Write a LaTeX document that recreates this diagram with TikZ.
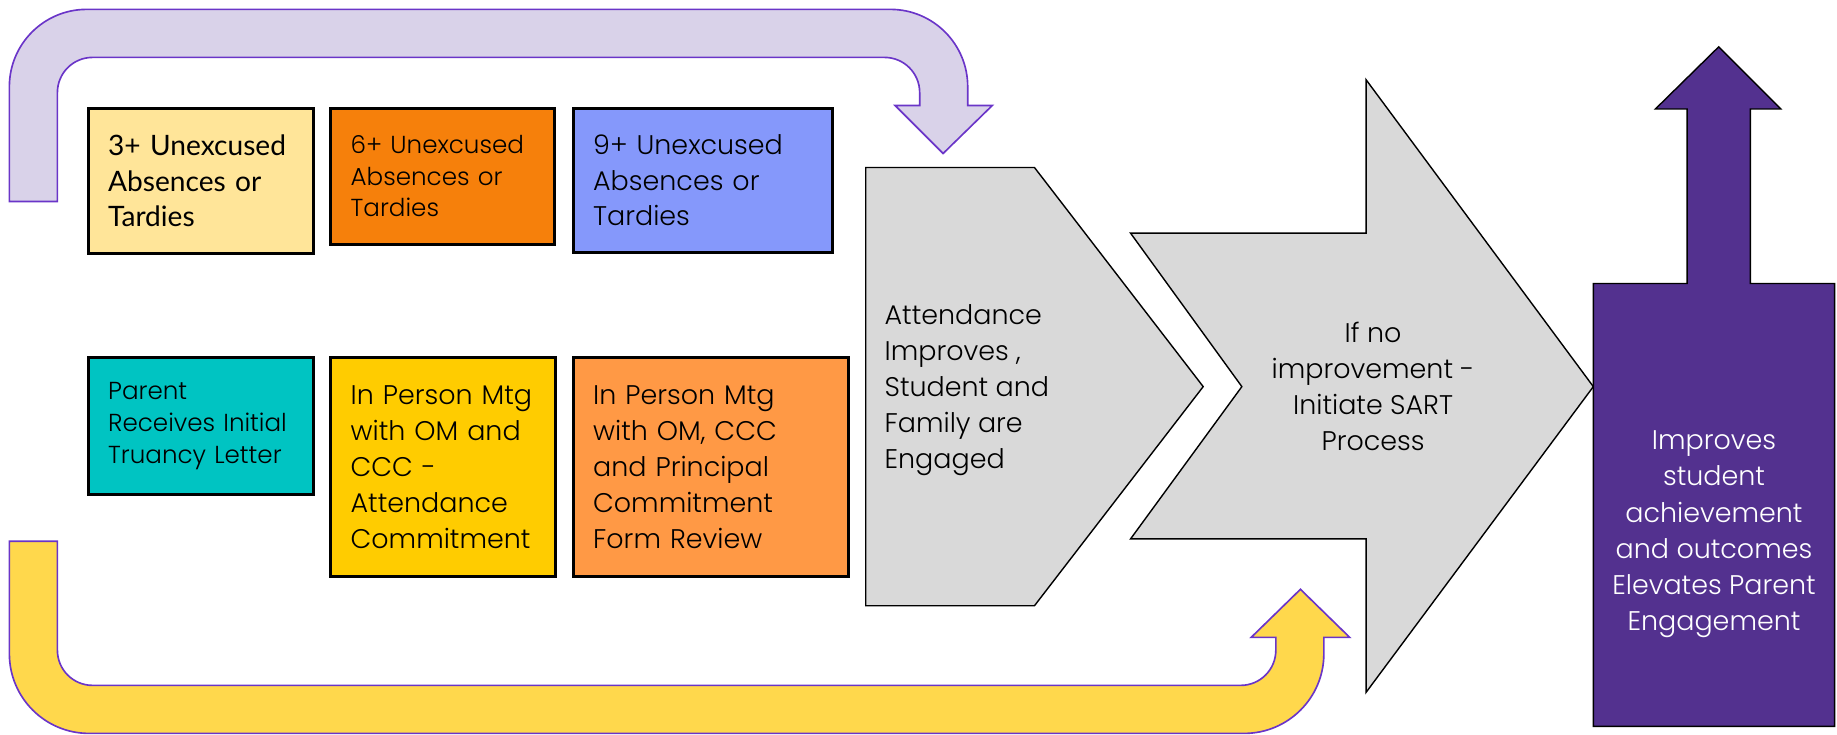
\documentclass[tikz,border=0pt]{standalone}
\usepackage{fontspec}
\setmainfont{Poppins}[UprightFont=* Light]
\newfontfamily\latofont{Lato}
\usepackage{tikz}
\usetikzlibrary{positioning}
\definecolor{lightyel}{RGB}{255,229,153}
\definecolor{deeporange}{RGB}{246,128,11}
\definecolor{periwinkle}{RGB}{133,152,251}
\definecolor{tealbox}{RGB}{0,196,194}
\definecolor{goldbox}{RGB}{255,204,0}
\definecolor{softorange}{RGB}{255,153,69}
\definecolor{panelgray}{RGB}{217,217,217}
\definecolor{deeppurple}{RGB}{83,49,143}
\definecolor{lavender}{RGB}{217,210,233}
\definecolor{sunyellow}{RGB}{255,216,76}
\definecolor{edgepurple}{RGB}{106,53,200}
\tikzset{
  stepbox/.style={rectangle, draw=black, line width=1.3pt, anchor=north west,
    align=left, inner xsep=8.5pt, inner ysep=0pt,
    font=\fontsize{11.5}{15.3}\selectfont},
  smallbox/.style={stepbox, font=\fontsize{10.5}{13.6}\selectfont},
  panel/.style={draw=black, line width=0.6pt, fill=panelgray},
  bent/.style={draw=edgepurple, line width=0.7pt},
  label/.style={font=\fontsize{11.5}{15.4}\selectfont}
}
\begin{document}
\begin{tikzpicture}[x=0.5pt, y=-0.5pt]
  \useasboundingbox (0,0) rectangle (1568,627);

  % Loop back arrows
  \draw[bent, fill=lavender] (8,172) [rounded corners=33pt] -- (8,8) -- (826,8) [sharp corners] -- (826,90) -- (847,90) -- (805,131) -- (764,90) -- (785,90) [rounded corners=15pt] -- (785,49) -- (49,49) [sharp corners] -- (49,172) -- cycle;
  \draw[bent, fill=sunyellow] (8,462) [rounded corners=34pt] -- (8,626) -- (1130,626) [sharp corners] -- (1130,544) -- (1152,544) -- (1110,503) -- (1068,544) -- (1089,544) [rounded corners=15pt] -- (1089,585) -- (49,585) [sharp corners] -- (49,462) -- cycle;

  % Absence thresholds
  \node[stepbox, fill=lightyel, minimum width=96pt, minimum height=62pt, text width=79pt,
    font=\latofont\fontsize{12}{15.3}\selectfont] (abs3) at (74,91) {3+ Unexcused\\Absences or\\Tardies};
  \node[smallbox, fill=deeporange, minimum width=95.5pt, minimum height=58pt, text width=78.5pt] (abs6) at (281,91) {6+ Unexcused\\Absences or\\Tardies};
  \node[stepbox, fill=periwinkle, minimum width=110.5pt, minimum height=61.5pt, text width=93.5pt] (abs9) at (488,91) {9+ Unexcused\\Absences or\\Tardies};

  % Interventions
  \node[smallbox, fill=tealbox, minimum width=96pt, minimum height=58.5pt, text width=79pt] (letter) at (74,304) {Parent\\Receives Initial\\Truancy Letter};
  \node[stepbox, fill=goldbox, minimum width=96pt, minimum height=93.5pt, text width=79pt] (mtg1) at (281,304) {In Person Mtg\\with OM and\\CCC -\\Attendance\\Commitment};
  \node[stepbox, fill=softorange, minimum width=117.5pt, minimum height=93.5pt, text width=100.5pt] (mtg2) at (488,304) {In Person Mtg\\with OM, CCC\\and Principal\\Commitment\\Form Review};

  % Outcome panels
  \draw[panel] (739,143) -- (883,143) -- (1027,330) -- (883,517) -- (739,517) -- cycle;
  \draw[panel] (965,199) -- (1166,199) -- (1166,68) -- (1360,330) -- (1166,591) -- (1166,460) -- (965,460) -- (1060,330) -- cycle;
  \draw[black, line width=0.6pt, fill=deeppurple] (1360,242) -- (1440,242) -- (1440,93) -- (1413,93) -- (1467,40) -- (1520,93) -- (1494,93) -- (1494,242) -- (1566,242) -- (1566,620) -- (1360,620) -- cycle;

  \node[label, anchor=west, align=left] (improve) at (748,333) {Attendance\\Improves ,\\Student and\\Family are\\Engaged};
  \node[label, align=center] (sart) at (1172,330) {If no\\improvement -\\Initiate SART\\Process};
  \node[label, align=center, text=white] (outcome) at (1463,456) {Improves\\student\\achievement\\and outcomes\\Elevates Parent\\Engagement};
\end{tikzpicture}
\end{document}
